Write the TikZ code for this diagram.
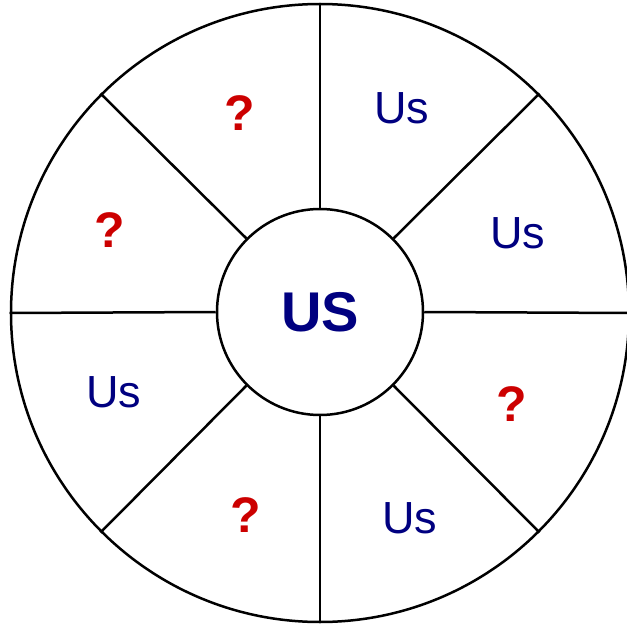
\documentclass[tikz,border=0pt]{standalone}
\usepackage{fontspec}
\setmainfont{Liberation Sans}
\definecolor{wheelink}{HTML}{000000}
\definecolor{wheelnavy}{HTML}{000080}
\definecolor{wheelred}{HTML}{CC0000}

\begin{document}
\begin{tikzpicture}[
  x=1pt,
  y=1pt,
  every node/.style={inner sep=0pt},
  usword/.style={text=wheelnavy, font=\fontsize{45}{45}\selectfont},
  asks/.style={text=wheelred, font=\fontsize{50}{50}\selectfont\bfseries}
]
  \useasboundingbox (-320,-315) rectangle (307,312);

  % ---- wheel: rim, hub and the eight spokes ----------------------------
  \node[circle, draw=wheelink, line width=2.5pt, minimum size=618pt] (rim) at (0,-1) {};
  \node[circle, draw=wheelink, line width=2.5pt, minimum size=206pt,
        text=wheelnavy, font=\fontsize{56}{56}\selectfont\bfseries] (hub) at (0,0) {US};

  \foreach \a in {0,45,...,315}
    \draw[wheelink, line width=2.5pt] (hub.\a) -- (rim.\a);

  % ---- sector labels ---------------------------------------------------
  \node[usword] (us1) at (82,204) {Us};
  \node[usword] (us2) at (198,79) {Us};
  \node[usword] (us3) at (90,-206) {Us};
  \node[usword] (us4) at (-206,-80) {Us};

  \node[asks] (q1) at (-80,199) {?};
  \node[asks] (q2) at (-210,82) {?};
  \node[asks] (q3) at (192,-92) {?};
  \node[asks] (q4) at (-74,-203) {?};
\end{tikzpicture}
\end{document}
